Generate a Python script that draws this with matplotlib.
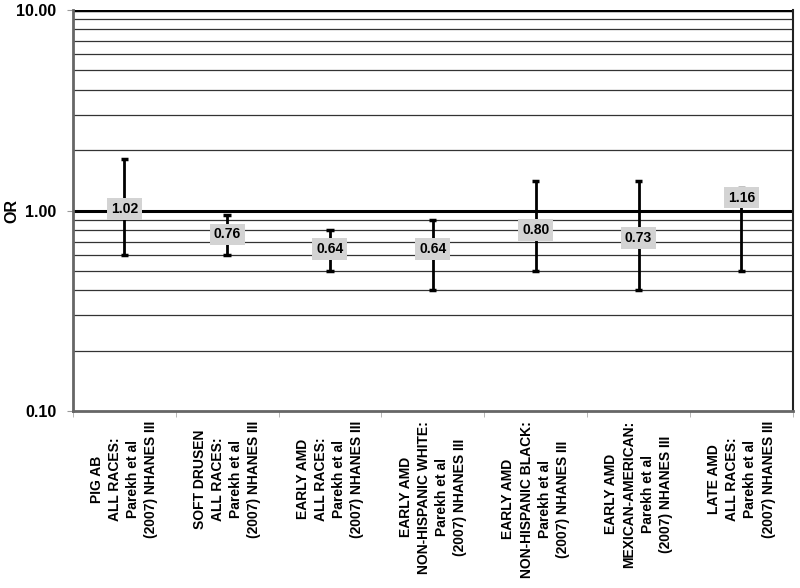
import numpy as np
import matplotlib.pyplot as plt
from matplotlib.ticker import FixedLocator, NullFormatter

plt.rcParams['font.family'] = ['Liberation Sans', 'DejaVu Sans']

# datos
categorias = [
    "PIG AB\nALL RACES:\nParekh et al\n(2007) NHANES III",
    "SOFT DRUSEN\nALL RACES:\nParekh et al\n(2007) NHANES III",
    "EARLY AMD\nALL RACES:\nParekh et al\n(2007) NHANES III",
    "EARLY AMD\nNON-HISPANIC WHITE:\nParekh et al\n(2007) NHANES III",
    "EARLY AMD\nNON-HISPANIC BLACK:\nParekh et al\n(2007) NHANES III",
    "EARLY AMD\nMEXICAN-AMERICAN:\nParekh et al\n(2007) NHANES III",
    "LATE AMD\nALL RACES:\nParekh et al\n(2007) NHANES III",
]
or_val = [1.02, 0.76, 0.64, 0.64, 0.80, 0.73, 1.16]
ic_bajo = [0.60, 0.60, 0.50, 0.40, 0.50, 0.40, 0.50]
ic_alto = [1.80, 0.95, 0.80, 0.90, 1.40, 1.40, 1.30]

fig = plt.figure(figsize=(8, 5.88), dpi=100)
ax = fig.add_axes([0.091, 0.301, 0.9, 0.682])

x = np.arange(len(categorias))
ax.set_yscale('log')
ax.set_ylim(0.1, 10)
ax.set_xlim(-0.5, len(categorias) - 0.5)

# rejilla horizontal
menores = [m * d for d in (0.1, 1) for m in range(2, 10)]
for v in menores:
    ax.axhline(v, color='#333333', lw=0.9, zorder=1)
ax.axhline(1.0, color='black', lw=2.2, zorder=2)
ax.axhline(10.0, color='black', lw=2.5, zorder=2)

# barras de error
for xi, o, lo, hi in zip(x, or_val, ic_bajo, ic_alto):
    ax.vlines(xi, lo, hi, color='black', lw=2, zorder=3)
    ax.hlines([lo, hi], xi - 0.035, xi + 0.035, color='black', lw=2.5, zorder=3)
    ax.text(xi, o, f"{o:.2f}", ha='center', va='center', fontsize=10,
            fontweight='bold', zorder=4,
            bbox=dict(boxstyle='square,pad=0.28', fc='#d3d3d3', ec='none'))

# ejes
ax.yaxis.set_major_locator(FixedLocator([0.1, 1, 10]))
ax.yaxis.set_minor_formatter(NullFormatter())
ax.yaxis.set_minor_locator(FixedLocator([]))
ax.set_yticklabels(['0.10', '1.00', '10.00'], fontsize=11.5, fontweight='bold')
ax.tick_params(axis='y', length=4, color='#999999', pad=8)
ax.set_ylabel('OR', fontsize=11.5, fontweight='bold')
ax.yaxis.set_label_coords(-0.074, 0.5)

ax.set_xticks(x)
ax.set_xticklabels(categorias, rotation=90, fontsize=10, fontweight='bold',
                   ha='center', va='top', multialignment='center',
                   linespacing=1.38)
ax.tick_params(axis='x', length=0, pad=7)
ax.set_xticks(np.arange(len(categorias) + 1) - 0.5, minor=True)
ax.tick_params(axis='x', which='minor', length=4, color='#aaaaaa')

for s in ('left', 'bottom'):
    ax.spines[s].set_color('#666666')
    ax.spines[s].set_linewidth(2)
ax.spines['right'].set_color('#222222')
ax.spines['right'].set_linewidth(1.5)
ax.spines['top'].set_visible(False)

fig.savefig('out.png', dpi=100)
